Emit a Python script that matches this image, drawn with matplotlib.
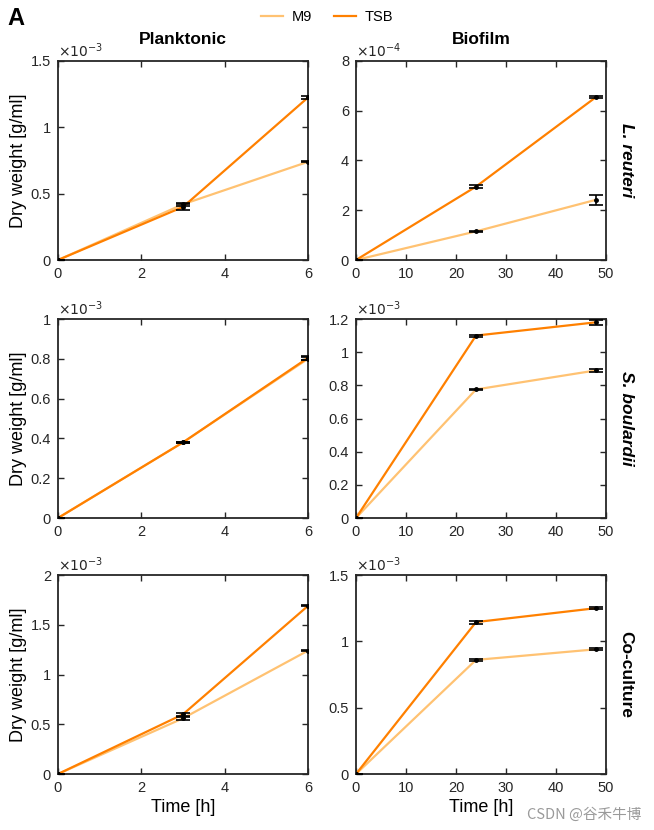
import numpy as np
import matplotlib
matplotlib.use('Agg')
import matplotlib.pyplot as plt
from matplotlib.ticker import FuncFormatter, MultipleLocator

plt.rcParams['font.family'] = ['Liberation Sans', 'DejaVu Sans']

# sampling times
t_plank = [0, 3, 6]
t_bio = [0, 24, 48]

organisms = ['L. reuteri', 'S. boulardii', 'Co-culture']

# dry weight [g/ml]; rows = organisms
plank_m9 = [[0, 0.42e-3, 0.74e-3], [0, 0.38e-3, 0.80e-3], [0, 0.56e-3, 1.24e-3]]
plank_m9_err = [[0, 0.010e-3, 0.005e-3], [0, 0.004e-3, 0.008e-3], [0, 0.015e-3, 0.004e-3]]
plank_tsb = [[0, 0.40e-3, 1.225e-3], [0, 0.38e-3, 0.805e-3], [0, 0.60e-3, 1.69e-3]]
plank_tsb_err = [[0, 0.020e-3, 0.008e-3], [0, 0.004e-3, 0.010e-3], [0, 0.015e-3, 0.005e-3]]

bio_m9 = [[0, 1.15e-4, 2.42e-4], [0, 0.775e-3, 0.89e-3], [0, 0.86e-3, 0.94e-3]]
bio_m9_err = [[0, 0.03e-4, 0.20e-4], [0, 0.005e-3, 0.008e-3], [0, 0.008e-3, 0.006e-3]]
bio_tsb = [[0, 2.95e-4, 6.55e-4], [0, 1.10e-3, 1.18e-3], [0, 1.145e-3, 1.25e-3]]
bio_tsb_err = [[0, 0.05e-4, 0.04e-4], [0, 0.006e-3, 0.015e-3], [0, 0.012e-3, 0.010e-3]]

# y-axis settings per panel: (max, step, exponent)
plank_y = [(1.5e-3, 0.5e-3, -3), (1e-3, 0.2e-3, -3), (2e-3, 0.5e-3, -3)]
bio_y = [(8e-4, 2e-4, -4), (1.2e-3, 0.2e-3, -3), (1.5e-3, 0.5e-3, -3)]

c_m9 = '#FFC272'
c_tsb = '#FF8000'

fig = plt.figure(figsize=(6.54, 8.30), dpi=100)

lefts = [58 / 654, 356 / 654]
width = 250 / 654
bottoms = [1 - 260 / 830, 1 - 518 / 830, 1 - 774 / 830]
height = 199 / 830


def draw_panel(ax, t, m9, m9e, tsb, tsbe, ylim, xmax, xstep):
    ymax, ystep, ex = ylim
    ax.plot(t, m9, color=c_m9, lw=1.6, label='M9', zorder=2)
    ax.plot(t, tsb, color=c_tsb, lw=1.6, label='TSB', zorder=2)
    ax.errorbar(t, m9, yerr=m9e, fmt='.', color='black', ms=5, capsize=5,
                elinewidth=1.2, capthick=1.2, zorder=3)
    ax.errorbar(t, tsb, yerr=tsbe, fmt='.', color='black', ms=5, capsize=5,
                elinewidth=1.2, capthick=1.2, zorder=3)
    ax.set_xlim(0, xmax)
    ax.set_ylim(0, ymax)
    ax.xaxis.set_major_locator(MultipleLocator(xstep))
    ax.yaxis.set_major_locator(MultipleLocator(ystep))
    scale = 10.0 ** ex
    ax.yaxis.set_major_formatter(FuncFormatter(lambda v, p: f'{round(v / scale, 6):g}'))
    ax.text(0.0, 1.005, r'$\times10^{%d}$' % ex, transform=ax.transAxes,
            ha='left', va='bottom', fontsize=10, color='#262626')
    ax.tick_params(direction='in', top=True, right=True, labelsize=10.5,
                   length=4, width=1, colors='#262626', pad=5)
    for sp in ax.spines.values():
        sp.set_linewidth(1.3)
        sp.set_color('#262626')


axes = []
for i in range(3):
    ax1 = fig.add_axes([lefts[0], bottoms[i], width, height])
    draw_panel(ax1, t_plank, plank_m9[i], plank_m9_err[i], plank_tsb[i], plank_tsb_err[i],
               plank_y[i], 6, 2)
    ax1.set_ylabel('Dry weight [g/ml]', fontsize=13, labelpad=3)
    ax2 = fig.add_axes([lefts[1], bottoms[i], width, height])
    draw_panel(ax2, t_bio, bio_m9[i], bio_m9_err[i], bio_tsb[i], bio_tsb_err[i],
               bio_y[i], 50, 10)
    style = 'normal' if organisms[i] == 'Co-culture' else 'italic'
    ax2.text(1.08, 0.5, organisms[i], transform=ax2.transAxes, rotation=-90,
             ha='center', va='center', fontsize=12.5, fontweight='bold', style=style)
    axes.append((ax1, ax2))
    if i == 0:
        ax1.set_title('Planktonic', fontsize=12.5, fontweight='bold', pad=12)
        ax2.set_title('Biofilm', fontsize=12.5, fontweight='bold', pad=12)
    if i == 2:
        ax1.set_xlabel('Time [h]', fontsize=13, labelpad=3)
        ax2.set_xlabel('Time [h]', fontsize=13, labelpad=3)

handles, labels = axes[0][0].get_legend_handles_labels()
fig.legend(handles, labels, loc='center', bbox_to_anchor=(0.5, 0.979), ncol=2,
           frameon=False, fontsize=10.5, handlelength=1.5, columnspacing=1.5,
           handletextpad=0.6)

fig.text(0.012, 0.978, 'A', fontsize=17, fontweight='bold', va='center')
fig.text(0.98, 0.01, 'CSDN @谷禾牛博', fontsize=10.5, color='#9a9a9a', ha='right', va='bottom',
         family=['Noto Sans CJK SC', 'DejaVu Sans'])

fig.savefig('out.png', dpi=100)
